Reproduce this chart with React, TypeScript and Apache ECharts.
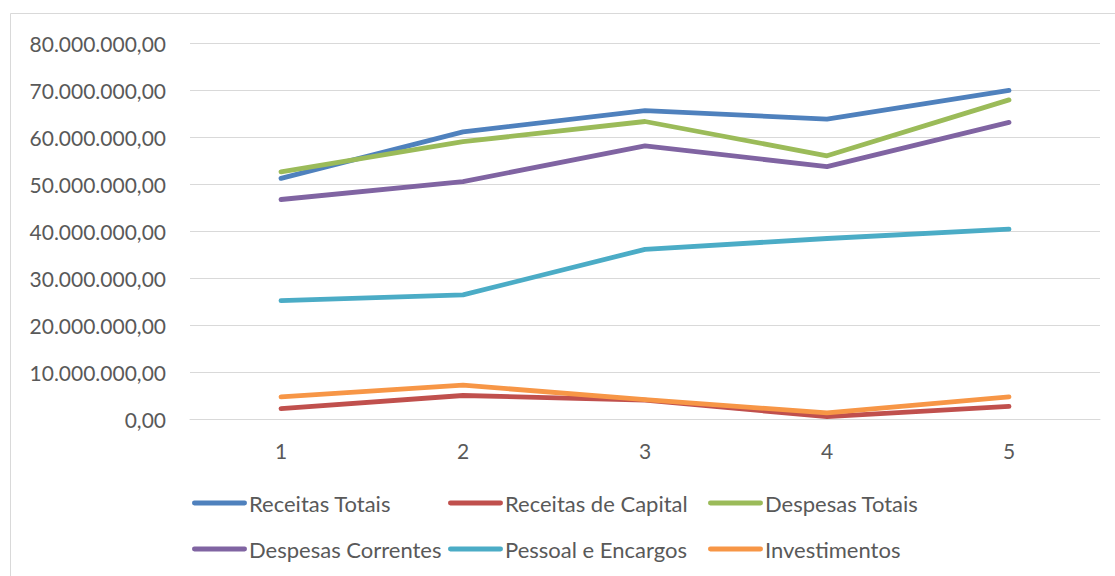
import React, { useEffect, useRef } from "react";
import * as echarts from "echarts";

// Periods (x axis categories)
const periods = ["1", "2", "3", "4", "5"];

// Series values (R$)
const receitasTotais = [51200000, 61100000, 65600000, 63800000, 69900000];
const receitasCapital = [2200000, 5000000, 4000000, 500000, 2700000];
const despesasTotais = [52600000, 59000000, 63300000, 56000000, 67900000];
const despesasCorrentes = [46700000, 50500000, 58100000, 53700000, 63100000];
const pessoalEncargos = [25200000, 26400000, 36100000, 38400000, 40400000];
const investimentos = [4700000, 7200000, 4100000, 1300000, 4700000];

const seriesNames = [
  "Receitas Totais",
  "Receitas de Capital",
  "Despesas Totais",
  "Despesas Correntes",
  "Pessoal e Encargos",
  "Investimentos",
];
const seriesData = [
  receitasTotais,
  receitasCapital,
  despesasTotais,
  despesasCorrentes,
  pessoalEncargos,
  investimentos,
];
const seriesColors = ["#4f81bd", "#c0504d", "#9bbb59", "#8064a2", "#4bacc6", "#f79646"];

// Y axis scale
const yMin = 0;
const yMax = 80000000;
const yStep = 10000000;

const FONT = "Lato, 'Noto Sans', sans-serif";
const TEXT_COLOR = "#595959";

// legend swatch: a short thick line with rounded ends
const LEGEND_ICON =
  "path://M2.4,0 H52.6 A2.4,2.4 0 0 1 52.6,4.8 H2.4 A2.4,2.4 0 0 1 2.4,0 Z";

// Brazilian number format: 80.000.000,00
function formatBR(v: number): string {
  const [intPart, dec] = Math.abs(v).toFixed(2).split(".");
  const withDots = intPart.replace(/\B(?=(\d{3})+(?!\d))/g, ".");
  return (v < 0 ? "-" : "") + withDots + "," + dec;
}

export default function App() {
  const ref = useRef<HTMLDivElement>(null);

  useEffect(() => {
    if (!ref.current) return;
    const chart = echarts.init(ref.current, undefined, { renderer: "svg" });

    // legend laid out as a 3-column, 2-row grid
    const colLeft = [192, 448, 708];
    const rowTop = [492, 538];
    const legends = seriesNames.map((name, i) => ({
      data: [{ name, icon: LEGEND_ICON }],
      left: colLeft[i % 3],
      top: rowTop[Math.floor(i / 3)],
      orient: "horizontal",
      itemWidth: 55,
      itemHeight: 22,
      itemGap: 0,
      padding: 0,
      selectedMode: false,
      symbolKeepAspect: true,
      textStyle: { fontFamily: FONT, fontSize: 22, color: TEXT_COLOR, padding: [0, 0, 0, -3] },
    }));

    chart.setOption({
      animation: false,
      backgroundColor: "#ffffff",
      graphic: [
        {
          type: "rect",
          shape: { x: 10.5, y: 13.5, width: 1200, height: 700 },
          style: { fill: "none", stroke: "#d9d9d9", lineWidth: 1 },
          silent: true,
        },
      ],
      grid: { left: 190, right: 15, top: 43, bottom: 157 },
      legend: legends,
      xAxis: {
        type: "category",
        data: periods,
        boundaryGap: true,
        axisLine: { show: true, lineStyle: { color: "#d9d9d9", width: 1 } },
        axisTick: { show: false },
        axisLabel: { fontFamily: FONT, fontSize: 21, color: TEXT_COLOR, margin: 21 },
      },
      yAxis: {
        type: "value",
        min: yMin,
        max: yMax,
        interval: yStep,
        axisLine: { show: false },
        axisTick: { show: false },
        axisLabel: {
          fontFamily: FONT,
          fontSize: 21,
          color: TEXT_COLOR,
          margin: 24,
          formatter: (v: number) => formatBR(v),
        },
        splitLine: { lineStyle: { color: "#d9d9d9", width: 1 } },
      },
      series: seriesNames.map((name, i) => ({
        name,
        type: "line",
        data: seriesData[i],
        showSymbol: false,
        symbol: "none",
        color: seriesColors[i],
        lineStyle: { width: 4.8, color: seriesColors[i], cap: "round", join: "round" },
      })),
    });

    return () => chart.dispose();
  }, []);

  return (
    <div
      ref={ref}
      style={{ position: "absolute", left: 0, top: 0, width: 1115, height: 576 }}
    />
  );
}
